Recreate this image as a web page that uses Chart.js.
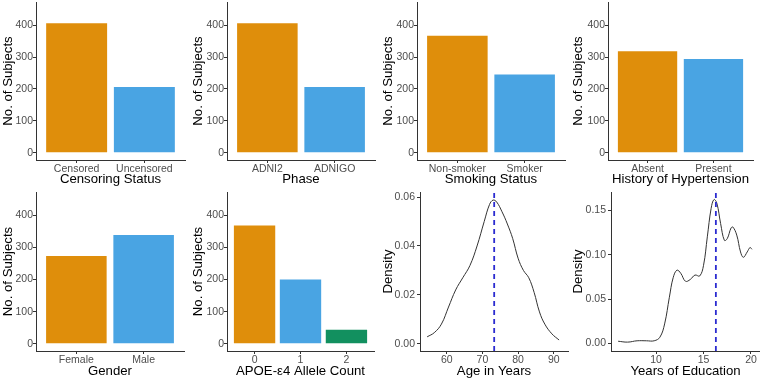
<!DOCTYPE html>
<html>
<head>
<meta charset="utf-8">
<script src="https://cdn.jsdelivr.net/npm/chart.js@4.4.0/dist/chart.umd.min.js"></script>
<style>
body { margin: 0; background: #fff; }
#grid { position: relative; width: 760px; height: 379px; }
.cell { position: absolute; width: 190px; height: 190px; }
</style>
</head>
<body>
<div id="grid"></div>
<script>
// bar panels
const censorLabels = ["Censored", "Uncensored"];
const censorCounts = [406, 206];
const phaseLabels = ["ADNI2", "ADNIGO"];
const phaseCounts = [406, 206];
const smokeLabels = ["Non-smoker", "Smoker"];
const smokeCounts = [367, 245];
const htnLabels = ["Absent", "Present"];
const htnCounts = [318, 294];
const genderLabels = ["Female", "Male"];
const genderCounts = [273, 339];
const apoeLabels = ["0", "1", "2"];
const apoeCounts = [368, 200, 44];
const countTicks = [0, 100, 200, 300, 400];

// density panels
const ageX = [54.5, 56.5, 58.5, 60.5, 62.5, 64.5, 66.5, 68.5, 70.5, 72, 73, 74, 75.5, 77, 78.5, 80, 81.5, 83, 84.5, 86, 87.5, 89.5, 91.5];
const ageDensity = [0.0028, 0.0045, 0.008, 0.015, 0.022, 0.027, 0.032, 0.040, 0.050, 0.057, 0.0588, 0.058, 0.054, 0.049, 0.043, 0.035, 0.030, 0.027, 0.021, 0.013, 0.008, 0.004, 0.0015];
const ageMean = 73.3;
const ageXTicks = [60, 70, 80, 90];
const ageYTicks = [0, 0.02, 0.04, 0.06];

const eduX = [6.0, 7.0, 8.0, 9.0, 9.8, 10.4, 10.9, 11.4, 11.8, 12.2, 12.6, 13.1, 13.6, 14.1, 14.6, 15.0, 15.4, 15.8, 16.1, 16.4, 16.8, 17.2, 17.5, 17.9, 18.1, 18.5, 18.9, 19.2, 19.6, 19.9, 20.1];
const eduDensity = [0.0025, 0.0015, 0.003, 0.003, 0.003, 0.007, 0.022, 0.052, 0.074, 0.0825, 0.079, 0.070, 0.072, 0.077, 0.076, 0.088, 0.12, 0.152, 0.162, 0.158, 0.135, 0.116, 0.118, 0.130, 0.131, 0.122, 0.103, 0.097, 0.103, 0.108, 0.106];
const eduMean = 16.3;
const eduXTicks = [10, 15, 20];
const eduYTicks = [0, 0.05, 0.10, 0.15];

const palette = ["#DF8E0B", "#49A4E3", "#12905F"];
const FONT = "'Liberation Sans', Arial, sans-serif";
const tickFont = { family: FONT, size: 10.5 };
const titleFont = { family: FONT, size: 13.2 };

function makeCell(x, y) {
    const d = document.createElement("div");
    d.className = "cell";
    d.style.left = x + "px";
    d.style.top = y + "px";
    const c = document.createElement("canvas");
    c.width = 190;
    c.height = 190;
    d.appendChild(c);
    document.getElementById("grid").appendChild(d);
    return c;
}

function axisCommon(width, height) {
    return {
        offset: false,
        grid: { display: true, offset: false, drawOnChartArea: false, drawTicks: true, tickLength: 3, color: "#333" },
        border: { display: true, color: "#333", width: 1 },
        afterFit: s => {
            if (width) s.width = width;
            if (height) s.height = height;
            s.paddingTop = 0; s.paddingBottom = 0; s.paddingLeft = 0; s.paddingRight = 0;
        },
    };
}

function barPanel(x, y, lay, labels, counts, xTitle) {
    const canvas = makeCell(x, y);
    const n = labels.length;
    new Chart(canvas, {
        type: "bar",
        data: {
            datasets: [{
                data: counts.map((v, i) => ({ x: i + 1, y: v })),
                backgroundColor: counts.map((_, i) => palette[i]),
                barPercentage: 0.9,
                categoryPercentage: 1,
            }],
        },
        options: {
            responsive: false, animation: false,
            layout: { padding: { left: 0, right: lay.r, top: lay.t, bottom: lay.pb } },
            plugins: { legend: { display: false }, tooltip: { enabled: false } },
            scales: {
                x: {
                    type: "linear", min: 0.4, max: n + 0.6,
                    ...axisCommon(null, 190 - lay.b - lay.pb),
                    afterBuildTicks: s => { s.ticks = labels.map((_, i) => ({ value: i + 1 })); },
                    ticks: { font: tickFont, color: "#4d4d4d", padding: 0, maxRotation: 0, autoSkip: false,
                             stepSize: 1, includeBounds: false, callback: v => labels[v - 1] },
                    title: { display: true, text: xTitle, font: titleFont, color: "#000", padding: 0 },
                },
                y: {
                    type: "linear", min: -22.5, max: 472.5,
                    ...axisCommon(lay.w, null),
                    afterBuildTicks: s => { s.ticks = countTicks.map(v => ({ value: v })); },
                    ticks: { font: tickFont, color: "#4d4d4d", padding: 0 },
                    title: { display: true, text: "No. of Subjects", font: titleFont, color: "#000", padding: 0 },
                },
            },
        },
    });
}

function densityPanel(x, y, lay, xs, ys, mean, xr, yr, xTicks, yTicks, yDigits, xTitle) {
    const canvas = makeCell(x, y);
    new Chart(canvas, {
        type: "line",
        data: {
            datasets: [
                {
                    data: [{ x: mean, y: yr[0] }, { x: mean, y: yr[1] }],
                    borderColor: "#2B2BD0", borderWidth: 1.8, borderDash: [5, 4],
                    pointRadius: 0, tension: 0,
                },
                {
                    data: xs.map((v, i) => ({ x: v, y: ys[i] })),
                    borderColor: "#333", borderWidth: 1, pointRadius: 0, tension: 0.4,
                },
            ],
        },
        options: {
            responsive: false, animation: false,
            layout: { padding: { left: 0, right: lay.r, top: lay.t, bottom: lay.pb } },
            plugins: { legend: { display: false }, tooltip: { enabled: false } },
            scales: {
                x: {
                    type: "linear", min: xr[0], max: xr[1],
                    ...axisCommon(null, 190 - lay.b - lay.pb),
                    afterBuildTicks: s => { s.ticks = xTicks.map(v => ({ value: v })); },
                    ticks: { font: tickFont, color: "#4d4d4d", padding: 0, maxRotation: 0 },
                    title: { display: true, text: xTitle, font: titleFont, color: "#000", padding: 0 },
                },
                y: {
                    type: "linear", min: yr[0], max: yr[1],
                    ...axisCommon(lay.w, null),
                    afterBuildTicks: s => { s.ticks = yTicks.map(v => ({ value: v })); },
                    ticks: { font: tickFont, color: "#4d4d4d", padding: 2, callback: v => v.toFixed(yDigits) },
                    title: { display: true, text: "Density", font: titleFont, color: "#000", padding: 0 },
                },
            },
        },
    });
}

// top row
barPanel(0, 0, { w: 36, r: 5, t: 2, b: 160, pb: 3 }, censorLabels, censorCounts, "Censoring Status");
barPanel(190, 0, { w: 37, r: 5, t: 2, b: 160, pb: 3 }, phaseLabels, phaseCounts, "Phase");
barPanel(380, 0, { w: 37, r: 5, t: 2, b: 160, pb: 3 }, smokeLabels, smokeCounts, "Smoking Status");
barPanel(570, 0, { w: 38, r: 7, t: 2, b: 160, pb: 3 }, htnLabels, htnCounts, "History of Hypertension");
// bottom row
barPanel(0, 189, { w: 36, r: 6, t: 3, b: 162, pb: 0 }, genderLabels, genderCounts, "Gender");
barPanel(190, 189, { w: 37, r: 6, t: 3, b: 162, pb: 0 }, apoeLabels, apoeCounts, "APOE-\u03b54 Allele Count");
densityPanel(380, 189, { w: 40, r: 2, t: 3, b: 162, pb: 0 }, ageX, ageDensity, ageMean,
    [52.5, 94], [-0.003, 0.0621], ageXTicks, ageYTicks, 2, "Age in Years");
densityPanel(570, 189, { w: 41, r: 0, t: 3, b: 162, pb: 0 }, eduX, eduDensity, eduMean,
    [5.25, 20.95], [-0.0085, 0.1705], eduXTicks, eduYTicks, 2, "Years of Education");
</script>
</body>
</html>
